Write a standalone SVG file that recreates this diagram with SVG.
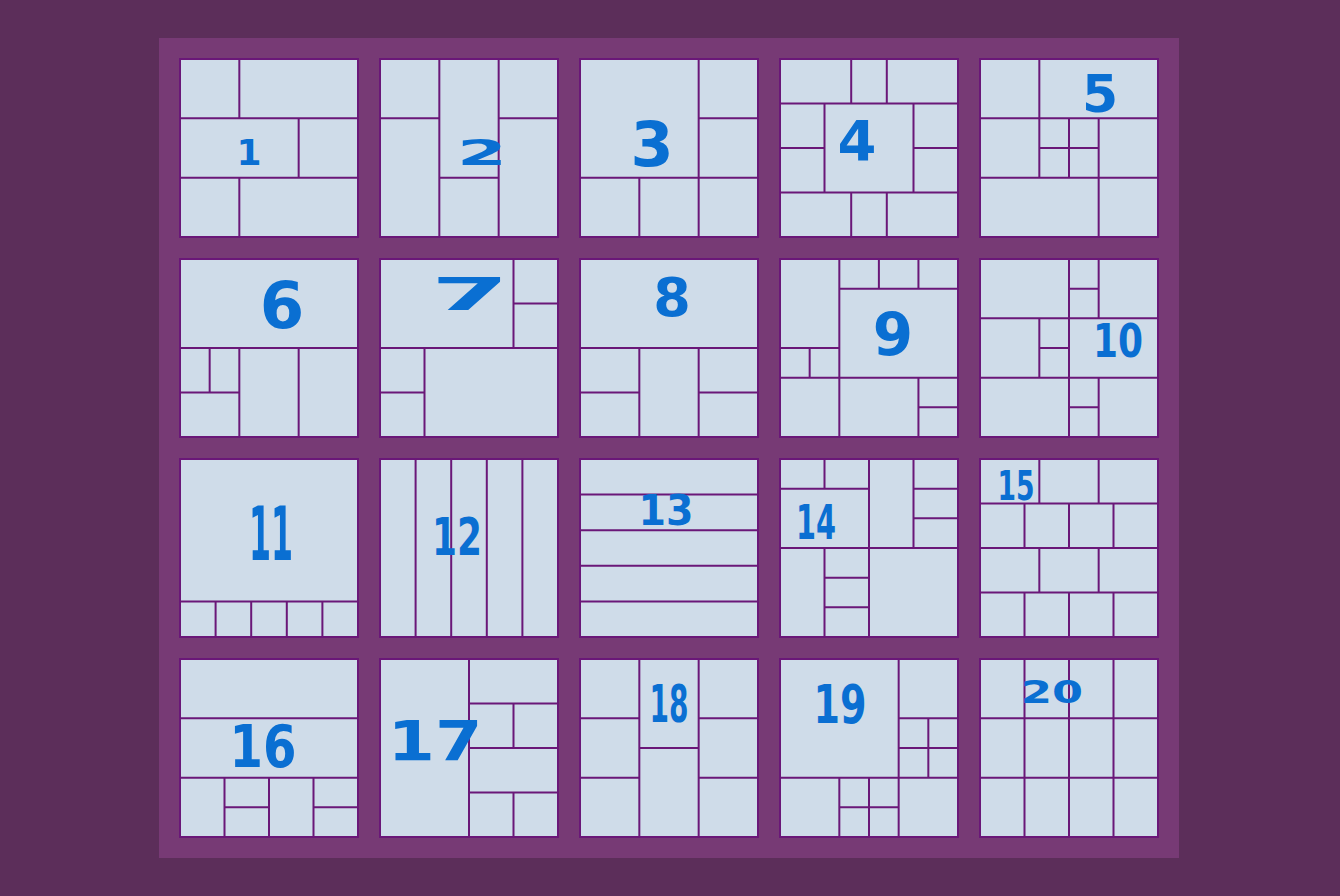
<svg xmlns="http://www.w3.org/2000/svg" width="1340" height="896" viewBox="0 0 1340 896">
<style>
.tile rect{fill:#cfdce9;stroke:#6a1778;stroke-width:2}
.tile path{fill:none;stroke:#6a1778;stroke-width:2}
.num{font-family:"DejaVu Sans","Liberation Sans",sans-serif;font-weight:bold;fill:#0a6fd2;text-anchor:middle}
</style>
<rect x="0" y="0" width="1340" height="896" fill="#5c2e5a"/>
<rect x="159" y="38" width="1020" height="820" fill="#773a75"/>
<g id="tile1" class="tile" transform="translate(180,59)"><rect width="178" height="178"/><path d="M0 59.33H178M0 118.67H178M59.33 0V59.33M118.67 59.33V118.67M59.33 118.67V178"/></g>
<g id="tile2" class="tile" transform="translate(380,59)"><rect width="178" height="178"/><path d="M59.33 0V178M118.67 0V178M0 59.33H59.33M59.33 118.67H118.67M118.67 59.33H178"/></g>
<g id="tile3" class="tile" transform="translate(580,59)"><rect width="178" height="178"/><path d="M118.67 0V178M0 118.67H178M118.67 59.33H178M59.33 118.67V178"/></g>
<g id="tile4" class="tile" transform="translate(780,59)"><rect width="178" height="178"/><path d="M0 44.5H178M0 133.5H178M71.2 0V44.5M106.8 0V44.5M71.2 133.5V178M106.8 133.5V178M44.5 44.5V133.5M133.5 44.5V133.5M0 89H44.5M133.5 89H178"/></g>
<g id="tile5" class="tile" transform="translate(980,59)"><rect width="178" height="178"/><path d="M0 59.33H178M0 118.67H178M59.33 0V118.67M89 59.33V118.67M118.67 59.33V178M59.33 89H118.67"/></g>
<g id="tile6" class="tile" transform="translate(180,259)"><rect width="178" height="178"/><path d="M0 89H178M59.33 89V178M118.67 89V178M0 133.5H59.33M29.67 89V133.5"/></g>
<g id="tile7" class="tile" transform="translate(380,259)"><rect width="178" height="178"/><path d="M0 89H178M133.5 0V89M133.5 44.5H178M44.5 89V178M0 133.5H44.5"/></g>
<g id="tile8" class="tile" transform="translate(580,259)"><rect width="178" height="178"/><path d="M0 89H178M59.33 89V178M118.67 89V178M0 133.5H59.33M118.67 133.5H178"/></g>
<g id="tile9" class="tile" transform="translate(780,259)"><rect width="178" height="178"/><path d="M59.33 0V178M59.33 29.67H178M98.89 0V29.67M138.44 0V29.67M0 89H59.33M29.67 89V118.67M0 118.67H178M138.44 118.67V178M138.44 148.33H178"/></g>
<g id="tile10" class="tile" transform="translate(980,259)"><rect width="178" height="178"/><path d="M0 59.33H178M0 118.67H178M89 0V178M118.67 0V59.33M89 29.67H118.67M59.33 59.33V118.67M59.33 89H89M118.67 118.67V178M89 148.33H118.67"/></g>
<g id="tile11" class="tile" transform="translate(180,459)"><rect width="178" height="178"/><path d="M0 142.4H178M35.6 142.4V178M71.2 142.4V178M106.8 142.4V178M142.4 142.4V178"/></g>
<g id="tile12" class="tile" transform="translate(380,459)"><rect width="178" height="178"/><path d="M35.6 0V178M71.2 0V178M106.8 0V178M142.4 0V178"/></g>
<g id="tile13" class="tile" transform="translate(580,459)"><rect width="178" height="178"/><path d="M0 35.6H178M0 71.2H178M0 106.8H178M0 142.4H178"/></g>
<g id="tile14" class="tile" transform="translate(780,459)"><rect width="178" height="178"/><path d="M89 0V178M0 89H178M0 29.67H89M44.5 0V29.67M133.5 0V89M133.5 29.67H178M133.5 59.33H178M44.5 89V178M44.5 118.67H89M44.5 148.33H89"/></g>
<g id="tile15" class="tile" transform="translate(980,459)"><rect width="178" height="178"/><path d="M0 44.5H178M0 89H178M0 133.5H178M59.33 0V44.5M118.67 0V44.5M44.5 44.5V89M89 44.5V89M133.5 44.5V89M59.33 89V133.5M118.67 89V133.5M44.5 133.5V178M89 133.5V178M133.5 133.5V178"/></g>
<g id="tile16" class="tile" transform="translate(180,659)"><rect width="178" height="178"/><path d="M0 59.33H178M0 118.67H178M44.5 118.67V178M89 118.67V178M133.5 118.67V178M44.5 148.33H89M133.5 148.33H178"/></g>
<g id="tile17" class="tile" transform="translate(380,659)"><rect width="178" height="178"/><path d="M89 0V178M89 44.5H178M89 89H178M89 133.5H178M133.5 44.5V89M133.5 133.5V178"/></g>
<g id="tile18" class="tile" transform="translate(580,659)"><rect width="178" height="178"/><path d="M59.33 0V178M118.67 0V178M0 59.33H59.33M0 118.67H59.33M59.33 89H118.67M118.67 59.33H178M118.67 118.67H178"/></g>
<g id="tile19" class="tile" transform="translate(780,659)"><rect width="178" height="178"/><path d="M118.67 0V178M0 118.67H178M118.67 59.33H178M118.67 89H178M148.33 59.33V118.67M59.33 118.67V178M89 118.67V178M59.33 148.33H118.67"/></g>
<g id="tile20" class="tile" transform="translate(980,659)"><rect width="178" height="178"/><path d="M44.5 0V178M89 0V178M133.5 0V178M0 59.33H178M0 118.67H178"/></g>
<g id="labels">
<text class="num" x="249" y="165" font-size="36">1</text>
<text class="num" x="482" y="165" font-size="36" textLength="50" lengthAdjust="spacingAndGlyphs">2</text>
<text class="num" x="652" y="166" font-size="62">3</text>
<text class="num" x="857" y="160" font-size="56">4</text>
<text class="num" x="1100" y="112" font-size="52">5</text>
<text class="num" x="282" y="328" font-size="64">6</text>
<text class="num" x="470" y="310" font-size="44" textLength="78" lengthAdjust="spacingAndGlyphs">7</text>
<text class="num" x="672" y="316" font-size="54">8</text>
<text class="num" x="893" y="355" font-size="58">9</text>
<text class="num" x="1118" y="357" font-size="46" textLength="50" lengthAdjust="spacingAndGlyphs">10</text>
<text class="num" x="271" y="560" font-size="74" textLength="44" lengthAdjust="spacingAndGlyphs">11</text>
<text class="num" x="457" y="555" font-size="52" textLength="50" lengthAdjust="spacingAndGlyphs">12</text>
<text class="num" x="666" y="525" font-size="42" textLength="55" lengthAdjust="spacingAndGlyphs">13</text>
<text class="num" x="816" y="539" font-size="48" textLength="40" lengthAdjust="spacingAndGlyphs">14</text>
<text class="num" x="1016" y="500" font-size="40" textLength="37" lengthAdjust="spacingAndGlyphs">15</text>
<text class="num" x="263" y="767" font-size="58" textLength="67" lengthAdjust="spacingAndGlyphs">16</text>
<text class="num" x="435" y="760" font-size="56" textLength="95" lengthAdjust="spacingAndGlyphs">17</text>
<text class="num" x="669" y="722" font-size="52" textLength="39" lengthAdjust="spacingAndGlyphs">18</text>
<text class="num" x="840" y="723" font-size="54" textLength="53" lengthAdjust="spacingAndGlyphs">19</text>
<text class="num" x="1052" y="703" font-size="32" textLength="62" lengthAdjust="spacingAndGlyphs">20</text>
</g>
</svg>
